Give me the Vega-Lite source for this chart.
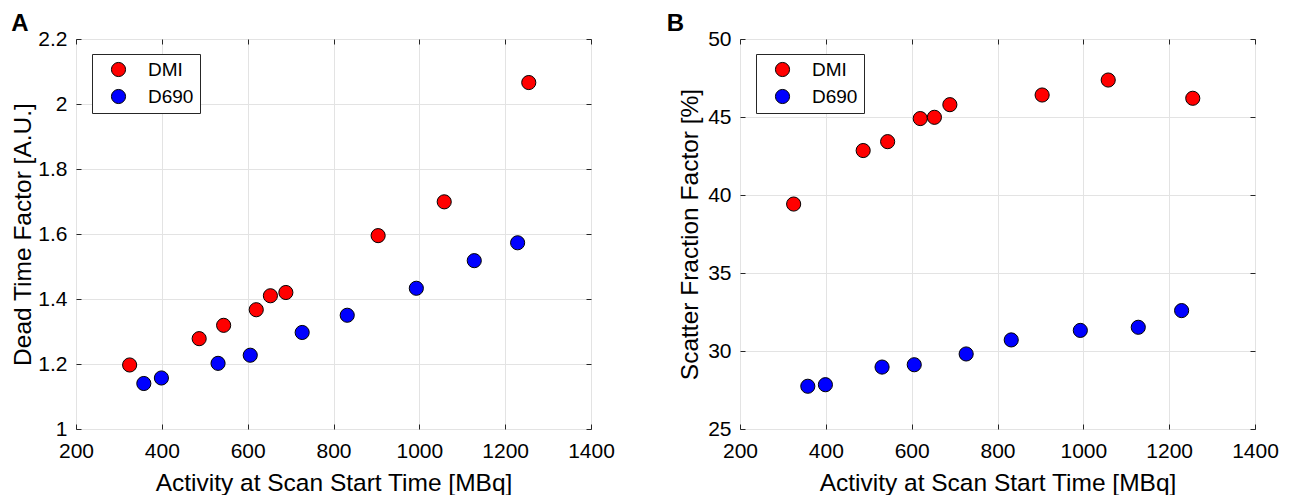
{
  "$schema": "https://vega.github.io/schema/vega-lite/v6.json",
  "background": "white",
  "padding": {"left": 9, "top": 11, "right": 5, "bottom": 0},
  "bounds": "flush",
  "spacing": 149,
  "config": {
    "font": "Liberation Sans",
    "view": {"stroke": "#262626", "strokeWidth": 1},
    "axis": {
      "grid": true, "gridColor": "#e3e3e3", "gridWidth": 1,
      "domain": false, "labelFlush": false,
      "tickColor": "#262626", "tickSize": 0, "tickWidth": 1,
      "labelFont": "Liberation Sans", "labelFontSize": 21, "labelColor": "#000000",
      "titleFont": "Liberation Sans", "titleFontSize": 24.5, "titleFontWeight": "normal", "titleColor": "#000000"
    },
    "axisX": {"labelPadding": 11, "titlePadding": 10},
    "axisY": {"labelPadding": 9, "titlePadding": 2.5},
    "title": {"fontSize": 24, "fontWeight": "bold", "anchor": "start", "frame": "bounds", "font": "Liberation Sans", "color": "#000000", "offset": -8},
    "legend": {
      "orient": "none", "legendX": 16, "legendY": 15, "direction": "vertical",
      "symbolType": "circle", "symbolSize": 200, "symbolStrokeColor": "black", "symbolStrokeWidth": 1,
      "labelFont": "Liberation Sans", "labelFontSize": 19, "labelColor": "#000000",
      "padding": 6, "symbolOffset": 11, "labelOffset": 20, "rowPadding": 7,
      "strokeColor": "#262626", "fillColor": "white"
    }
  },
  "datasets": {
    "pts": [
      {"scanner": "DMI", "activity": 325, "deadtime": 1.197, "scatter": 39.42},
      {"scanner": "DMI", "activity": 487, "deadtime": 1.278, "scatter": 42.85},
      {"scanner": "DMI", "activity": 544, "deadtime": 1.319, "scatter": 43.42},
      {"scanner": "DMI", "activity": 620, "deadtime": 1.367, "scatter": 44.90},
      {"scanner": "DMI", "activity": 653, "deadtime": 1.410, "scatter": 44.98},
      {"scanner": "DMI", "activity": 689, "deadtime": 1.420, "scatter": 45.79},
      {"scanner": "DMI", "activity": 904, "deadtime": 1.595, "scatter": 46.41},
      {"scanner": "DMI", "activity": 1058, "deadtime": 1.699, "scatter": 47.37},
      {"scanner": "DMI", "activity": 1255, "deadtime": 2.066, "scatter": 46.20},
      {"scanner": "D690", "activity": 358, "deadtime": 1.140, "scatter": 27.74},
      {"scanner": "D690", "activity": 399, "deadtime": 1.157, "scatter": 27.84},
      {"scanner": "D690", "activity": 531, "deadtime": 1.202, "scatter": 28.97},
      {"scanner": "D690", "activity": 606, "deadtime": 1.227, "scatter": 29.12},
      {"scanner": "D690", "activity": 727, "deadtime": 1.297, "scatter": 29.81},
      {"scanner": "D690", "activity": 832, "deadtime": 1.350, "scatter": 30.71},
      {"scanner": "D690", "activity": 993, "deadtime": 1.433, "scatter": 31.32},
      {"scanner": "D690", "activity": 1128, "deadtime": 1.518, "scatter": 31.52},
      {"scanner": "D690", "activity": 1229, "deadtime": 1.573, "scatter": 32.59}
    ]
  },
  "hconcat": [
    {
      "width": 515, "height": 390,
      "title": {"text": "A", "dx": 1},
      "data": {"name": "pts"},
      "layer": [
        {
          "mark": {"type": "point", "filled": true, "size": 200, "stroke": "black", "strokeWidth": 1, "opacity": 1},
          "encoding": {
            "x": {"field": "activity", "type": "quantitative",
                  "scale": {"domain": [200, 1400], "nice": false, "zero": false},
                  "axis": {"orient": "bottom", "values": [200, 400, 600, 800, 1000, 1200, 1400], "format": "d", "title": "Activity at Scan Start Time [MBq]"}},
            "y": {"field": "deadtime", "type": "quantitative",
                  "scale": {"domain": [1, 2.2], "nice": false, "zero": false},
                  "axis": {"orient": "left", "values": [1, 1.2, 1.4, 1.6, 1.8, 2, 2.2], "format": "~g", "title": "Dead Time Factor [A.U.]"}},
            "color": {"field": "scanner", "type": "nominal",
                      "scale": {"domain": ["DMI", "D690"], "range": ["#ff0000", "#0000ff"]},
                      "legend": {"title": null}}
          }
        },
        {
          "mark": {"type": "point", "opacity": 0},
          "encoding": {
            "x": {"field": "activity", "type": "quantitative",
                  "scale": {"domain": [200, 1400], "nice": false, "zero": false},
                  "axis": {"orient": "top", "offset": -390, "values": [200, 400, 600, 800, 1000, 1200, 1400], "labels": false, "title": null, "grid": false, "tickSize": 5}},
            "y": {"field": "deadtime", "type": "quantitative",
                  "scale": {"domain": [1, 2.2], "nice": false, "zero": false},
                  "axis": {"orient": "right", "offset": -515, "values": [1, 1.2, 1.4, 1.6, 1.8, 2, 2.2], "labels": false, "title": null, "grid": false, "tickSize": 5}}
          }
        },
        {
          "mark": {"type": "point", "opacity": 0},
          "encoding": {
            "x": {"field": "activity", "type": "quantitative",
                  "scale": {"domain": [200, 1400], "nice": false, "zero": false},
                  "axis": {"orient": "bottom", "offset": -390, "values": [200, 400, 600, 800, 1000, 1200, 1400], "labels": false, "title": null, "grid": false, "tickSize": 5}},
            "y": {"field": "deadtime", "type": "quantitative",
                  "scale": {"domain": [1, 2.2], "nice": false, "zero": false},
                  "axis": {"orient": "left", "offset": -515, "values": [1, 1.2, 1.4, 1.6, 1.8, 2, 2.2], "labels": false, "title": null, "grid": false, "tickSize": 5}}
          }
        }
      ],
      "resolve": {"axis": {"x": "independent", "y": "independent"}}
    },
    {
      "width": 515, "height": 390,
      "title": {"text": "B", "dx": -11},
      "data": {"name": "pts"},
      "layer": [
        {
          "mark": {"type": "point", "filled": true, "size": 200, "stroke": "black", "strokeWidth": 1, "opacity": 1},
          "encoding": {
            "x": {"field": "activity", "type": "quantitative",
                  "scale": {"domain": [200, 1400], "nice": false, "zero": false},
                  "axis": {"orient": "bottom", "values": [200, 400, 600, 800, 1000, 1200, 1400], "format": "d", "title": "Activity at Scan Start Time [MBq]"}},
            "y": {"field": "scatter", "type": "quantitative",
                  "scale": {"domain": [25, 50], "nice": false, "zero": false},
                  "axis": {"orient": "left", "values": [25, 30, 35, 40, 45, 50], "title": "Scatter Fraction Factor [%]", "titlePadding": 5}},
            "color": {"field": "scanner", "type": "nominal",
                      "scale": {"domain": ["DMI", "D690"], "range": ["#ff0000", "#0000ff"]},
                      "legend": {"title": null}}
          }
        },
        {
          "mark": {"type": "point", "opacity": 0},
          "encoding": {
            "x": {"field": "activity", "type": "quantitative",
                  "scale": {"domain": [200, 1400], "nice": false, "zero": false},
                  "axis": {"orient": "top", "offset": -390, "values": [200, 400, 600, 800, 1000, 1200, 1400], "labels": false, "title": null, "grid": false, "tickSize": 5}},
            "y": {"field": "scatter", "type": "quantitative",
                  "scale": {"domain": [25, 50], "nice": false, "zero": false},
                  "axis": {"orient": "right", "offset": -515, "values": [25, 30, 35, 40, 45, 50], "labels": false, "title": null, "grid": false, "tickSize": 5}}
          }
        },
        {
          "mark": {"type": "point", "opacity": 0},
          "encoding": {
            "x": {"field": "activity", "type": "quantitative",
                  "scale": {"domain": [200, 1400], "nice": false, "zero": false},
                  "axis": {"orient": "bottom", "offset": -390, "values": [200, 400, 600, 800, 1000, 1200, 1400], "labels": false, "title": null, "grid": false, "tickSize": 5}},
            "y": {"field": "scatter", "type": "quantitative",
                  "scale": {"domain": [25, 50], "nice": false, "zero": false},
                  "axis": {"orient": "left", "offset": -515, "values": [25, 30, 35, 40, 45, 50], "labels": false, "title": null, "grid": false, "tickSize": 5}}
          }
        }
      ],
      "resolve": {"axis": {"x": "independent", "y": "independent"}}
    }
  ],
  "resolve": {"scale": {"color": "independent"}, "legend": {"color": "independent"}}
}
